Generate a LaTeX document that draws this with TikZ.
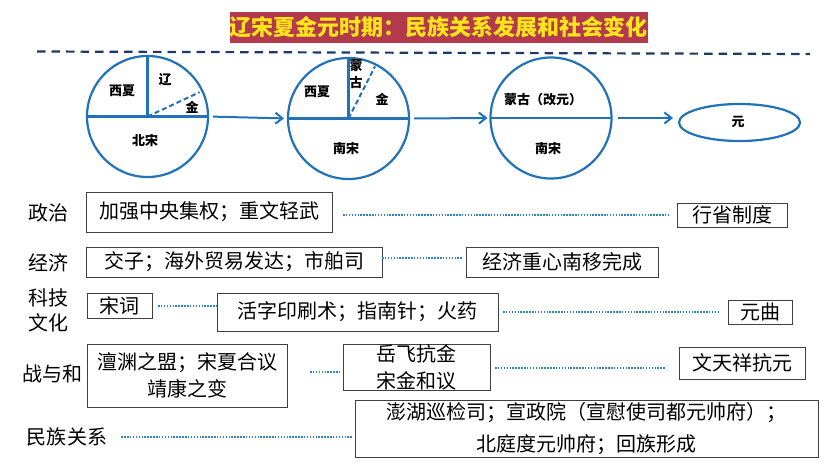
\documentclass[tikz,border=0pt]{standalone}
\usepackage{fontspec}
\newfontfamily\cjk{Noto Sans CJK SC}
\usetikzlibrary{arrows.meta,shapes.geometric}
\definecolor{circblue}{HTML}{2172B8}
\definecolor{dotblue}{HTML}{2E86C1}
\definecolor{navy}{HTML}{1F3864}
\definecolor{titlered}{HTML}{B33A4D}
\definecolor{titleyellow}{HTML}{FFE51A}
\definecolor{boxgray}{HTML}{404040}
\tikzset{
  circ/.style={circle, draw=circblue, line width=2.2pt, minimum size=121pt, inner sep=0pt, outer sep=0pt},
  divline/.style={draw=circblue, line width=2.2pt},
  divdash/.style={draw=circblue, line width=2pt, dash pattern=on 5pt off 3pt},
  clab/.style={inner sep=0pt, font=\cjk\bfseries\fontsize{13}{17}\selectfont, align=center},
  arr/.style={draw=circblue, line width=2pt, -{Straight Barb[length=7pt,width=11pt]}},
  box/.style={draw=boxgray, line width=0.9pt, inner sep=0pt, outer sep=0pt, font=\cjk\fontsize{20}{27}\selectfont, align=center},
  cat/.style={inner sep=0pt, font=\cjk\fontsize{20}{25}\selectfont, align=center},
  dotline/.style={draw=dotblue, line width=2pt, dash pattern=on 1.5pt off 1.4pt},
  topdash/.style={draw=navy, line width=2.2pt, dash pattern=on 8.5pt off 6pt}
}
\begin{document}
\begin{tikzpicture}[x=1pt,y=-1pt]
\useasboundingbox (0,0) rectangle (824,466);
% title
\node[fill=titlered, minimum width=417pt, minimum height=30.5pt, inner sep=0pt,
      text=titleyellow, font=\cjk\bfseries\fontsize{22}{24}\selectfont] (title) at (438.5,27.5)
      {辽宋夏金元时期：民族关系发展和社会变化};
% dashed separator
\coordinate (dl) at (37,51.5);
\coordinate (dr) at (810,54);
\draw[topdash] (dl) -- (dr);
% circles
\node[circ] (c1) at (147.5,116.5) {};
\node[circ] (c2) at (348.5,118.5) {};
\node[circ] (c3) at (551,118) {};
\node[ellipse, draw=circblue, line width=2.2pt, minimum width=121pt, minimum height=37pt, inner sep=0pt, outer sep=0pt] (c4) at (739.5,122.5) {};
% dividers
\draw[divline] (c1.west) -- (c1.east);
\draw[divline] (c1.north) -- (c1.center);
\draw[divdash, shorten >=3pt] (c1.center) -- (c1.25);
\draw[divline] (c2.west) -- (c2.east);
\draw[divline] (c2.north) -- (c2.center);
\draw[divdash, shorten >=2pt] (c2.center) -- (c2.63);
\draw[divline] (c3.west) -- (c3.east);
% circle labels
\node[clab] (x1) at (122,91) {西夏};
\node[clab] (l1a) at (165,80) {辽};
\node[clab] (j1) at (192,107) {金};
\node[clab] (bs) at (145,140) {北宋};
\node[clab] (x2) at (317,92) {西夏};
\node[clab] (mg) at (356,74) {蒙\\古};
\node[clab] (j2) at (382,99) {金};
\node[clab] (ns2) at (346,148) {南宋};
\node[clab] (mg3) at (543,100) {蒙古（改元）};
\node[clab] (ns3) at (548,148) {南宋};
\node[clab] (yuan) at (738,122) {元};
% arrows
\draw[arr, shorten <=5pt, shorten >=4pt] (c1.east) -- (c2.west);
\draw[arr, shorten <=5pt, shorten >=3pt] (c2.east) -- (c3.west);
\draw[arr, shorten <=6pt, shorten >=6pt] (c3.east) -- (c3.east -| c4.west);
% category labels
\node[cat] (k1) at (48,213) {政治};
\node[cat] (k2) at (48,263) {经济};
\node[cat] (k3) at (48,310.5) {科技\\文化};
\node[cat] (k4) at (52,374) {战与和};
\node[cat] (k5) at (67,437) {民族关系};
% boxes
\node[box, minimum width=246pt, minimum height=40pt] (b1) at (209,212) {加强中央集权；重文轻武};
\node[box, minimum width=110pt, minimum height=24pt] (b2) at (732,215) {行省制度};
\node[box, minimum width=296pt, minimum height=30pt] (b3) at (234,262) {交子；海外贸易发达；市舶司};
\node[box, minimum width=192pt, minimum height=30pt] (b4) at (562,262) {经济重心南移完成};
\node[box, minimum width=65pt, minimum height=25pt] (b5) at (119.5,305.5) {宋词};
\node[box, minimum width=281pt, minimum height=38pt] (b6) at (357.5,312) {活字印刷术；指南针；火药};
\node[box, minimum width=64pt, minimum height=24pt] (b7) at (760,312) {元曲};
\node[box, minimum width=200pt, minimum height=63pt] (b8) at (187,375.5) {澶渊之盟；宋夏合议\\靖康之变};
\node[box, minimum width=147pt, minimum height=46pt] (b9) at (416.5,367) {岳飞抗金\\宋金和议};
\node[box, minimum width=126pt, minimum height=32pt] (b10) at (742,363) {文天祥抗元};
\node[box, minimum width=463pt, minimum height=57pt, font=\cjk\fontsize{20}{32}\selectfont] (b11) at (586.5,428.5) {澎湖巡检司；宣政院（宣慰使司都元帅府）；\\北庭度元帅府；回族形成};
% dotted connectors
\draw[dotline, shorten <=11pt, shorten >=7pt] (b1.east |- b2.west) -- (b2.west);
\draw[dotline, shorten >=3pt] ([yshift=4pt]b3.east) -- ([yshift=4pt]b4.west);
\draw[dotline, shorten <=6pt] (b5.east) -- (b5.east -| b6.west);
\draw[dotline, shorten <=5pt, shorten >=8pt] (b6.east |- b7.west) -- (b7.west);
\draw[dotline, shorten <=23pt, shorten >=3pt] ([yshift=-4.5pt]b8.east |- b9.west) -- ([yshift=-4.5pt]b9.west);
\draw[dotline, shorten <=5pt, shorten >=14pt] ([yshift=-1pt]b9.east) -- ([yshift=-1pt]b9.east -| b10.west);
\draw[dotline, shorten <=14pt, shorten >=2pt] (k5.east) -- (k5.east -| b11.west);
\end{tikzpicture}
\end{document}
